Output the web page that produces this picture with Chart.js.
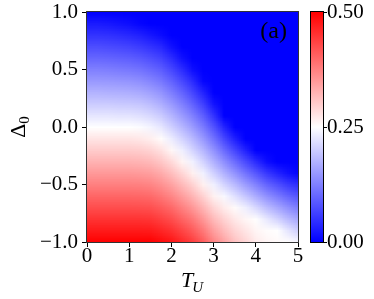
<!DOCTYPE html>
<html>
<head>
<meta charset="utf-8">
<style>
  html, body { margin: 0; padding: 0; background: #fff; }
  #wrap { width: 374px; height: 299px; }
</style>
</head>
<body>
<div id="wrap"><canvas id="heat" width="374" height="299"></canvas></div>
<script src="https://cdn.jsdelivr.net/npm/chart.js@4.4.1/dist/chart.umd.min.js"></script>
<script>
// T_U grid (columns) and Delta_0 grid (rows)
const tuValues = [0, 0.25, 0.5, 0.75, 1, 1.25, 1.5, 1.75, 2, 2.25, 2.5, 2.75, 3, 3.25, 3.5, 3.75, 4, 4.25, 4.5, 4.75, 5];
const deltaValues = [-1, -0.9, -0.8, -0.7, -0.6, -0.5, -0.4, -0.3, -0.2, -0.1, 0, 0.1, 0.2, 0.3, 0.4, 0.5, 0.6, 0.7, 0.8, 0.9, 1];

// one row per Delta_0 (bottom to top), one entry per T_U
const gridValues = [
  [0.5, 0.5, 0.5, 0.5, 0.5, 0.5, 0.5, 0.49, 0.48, 0.46, 0.44, 0.41, 0.37, 0.34, 0.31, 0.29, 0.27, 0.26, 0.255, 0.252, 0.242],
  [0.475, 0.475, 0.475, 0.475, 0.475, 0.475, 0.474, 0.464, 0.452, 0.432, 0.411, 0.381, 0.343, 0.316, 0.291, 0.275, 0.26, 0.253, 0.25, 0.225, 0.202],
  [0.45, 0.45, 0.45, 0.45, 0.45, 0.45, 0.448, 0.437, 0.425, 0.403, 0.382, 0.352, 0.317, 0.293, 0.273, 0.259, 0.251, 0.228, 0.207, 0.183, 0.163],
  [0.425, 0.425, 0.425, 0.425, 0.425, 0.424, 0.422, 0.411, 0.397, 0.375, 0.352, 0.323, 0.29, 0.269, 0.254, 0.234, 0.212, 0.185, 0.164, 0.142, 0.123],
  [0.4, 0.4, 0.4, 0.4, 0.4, 0.399, 0.396, 0.384, 0.369, 0.346, 0.323, 0.294, 0.263, 0.243, 0.22, 0.194, 0.169, 0.142, 0.121, 0.1, 0.083],
  [0.375, 0.375, 0.375, 0.375, 0.375, 0.374, 0.37, 0.358, 0.341, 0.318, 0.294, 0.265, 0.235, 0.208, 0.182, 0.153, 0.127, 0.099, 0.078, 0.058, 0.044],
  [0.35, 0.35, 0.35, 0.35, 0.35, 0.348, 0.344, 0.332, 0.314, 0.29, 0.265, 0.236, 0.204, 0.174, 0.144, 0.113, 0.085, 0.056, 0.034, 0.017, 0.004],
  [0.325, 0.325, 0.325, 0.325, 0.325, 0.323, 0.318, 0.305, 0.286, 0.261, 0.236, 0.207, 0.173, 0.139, 0.106, 0.073, 0.042, 0.013, 0, 0, 0],
  [0.3, 0.3, 0.3, 0.3, 0.3, 0.298, 0.292, 0.279, 0.258, 0.234, 0.208, 0.178, 0.142, 0.104, 0.068, 0.032, 0, 0, 0, 0, 0],
  [0.275, 0.275, 0.275, 0.275, 0.275, 0.273, 0.266, 0.253, 0.231, 0.207, 0.181, 0.149, 0.111, 0.069, 0.03, 0, 0, 0, 0, 0, 0],
  [0.25, 0.25, 0.25, 0.25, 0.25, 0.247, 0.239, 0.226, 0.204, 0.179, 0.153, 0.121, 0.08, 0.035, 0, 0, 0, 0, 0, 0, 0],
  [0.225, 0.225, 0.225, 0.224, 0.224, 0.22, 0.212, 0.199, 0.177, 0.152, 0.125, 0.092, 0.049, 0, 0, 0, 0, 0, 0, 0, 0],
  [0.2, 0.2, 0.2, 0.198, 0.197, 0.194, 0.185, 0.172, 0.151, 0.125, 0.097, 0.063, 0.019, 0, 0, 0, 0, 0, 0, 0, 0],
  [0.175, 0.175, 0.174, 0.173, 0.171, 0.167, 0.158, 0.145, 0.124, 0.098, 0.069, 0.034, 0, 0, 0, 0, 0, 0, 0, 0, 0],
  [0.15, 0.15, 0.149, 0.147, 0.145, 0.14, 0.13, 0.118, 0.097, 0.071, 0.042, 0.006, 0, 0, 0, 0, 0, 0, 0, 0, 0],
  [0.125, 0.125, 0.124, 0.121, 0.118, 0.113, 0.103, 0.091, 0.07, 0.043, 0.014, 0, 0, 0, 0, 0, 0, 0, 0, 0, 0],
  [0.1, 0.1, 0.098, 0.095, 0.092, 0.086, 0.076, 0.065, 0.043, 0.016, 0, 0, 0, 0, 0, 0, 0, 0, 0, 0, 0],
  [0.075, 0.075, 0.073, 0.07, 0.066, 0.059, 0.049, 0.038, 0.016, 0, 0, 0, 0, 0, 0, 0, 0, 0, 0, 0, 0],
  [0.05, 0.05, 0.048, 0.044, 0.039, 0.032, 0.022, 0.011, 0, 0, 0, 0, 0, 0, 0, 0, 0, 0, 0, 0, 0],
  [0.025, 0.025, 0.023, 0.018, 0.013, 0.005, 0, 0, 0, 0, 0, 0, 0, 0, 0, 0, 0, 0, 0, 0, 0],
  [0, 0, 0, 0, 0, 0, 0, 0, 0, 0, 0, 0, 0, 0, 0, 0, 0, 0, 0, 0, 0]
];

const xTickValues = [0, 1, 2, 3, 4, 5];
const xTickLabels = ["0", "1", "2", "3", "4", "5"];
const yTickValues = [-1, -0.5, 0, 0.5, 1];
const yTickLabels = ["\u22121.0", "\u22120.5", "0.0", "0.5", "1.0"];
const cbTickValues = [0, 0.25, 0.5];
const cbTickLabels = ["0.00", "0.25", "0.50"];
const vMin = 0, vMax = 0.5;
const panelLabel = "(a)";

const serif = "'Liberation Serif', 'DejaVu Serif', serif";
const tickFont = { family: serif, size: 21, lineHeight: 0.75 };

// matplotlib "bwr": blue -> white -> red
function bwr(v) {
  let t = (v - vMin) / (vMax - vMin);
  t = Math.max(0, Math.min(1, t));
  if (t < 0.5) {
    const c = Math.round(510 * t);
    return [c, c, 255];
  }
  const c = Math.round(510 * (1 - t));
  return [255, c, c];
}

function setTicks(values) {
  return (scale) => { scale.ticks = values.map(v => ({ value: v })); };
}

const heatmap = {
  id: "heatmap",
  beforeDatasetsDraw(chart) {
    const { ctx, chartArea: a, scales: { x, y } } = chart;
    const nx = tuValues.length, ny = deltaValues.length;
    const off = document.createElement("canvas");
    off.width = nx;
    off.height = ny;
    const octx = off.getContext("2d");
    const img = octx.createImageData(nx, ny);
    for (let i = 0; i < ny; i++) {
      for (let j = 0; j < nx; j++) {
        const [r, g, b] = bwr(gridValues[i][j]);
        const k = ((ny - 1 - i) * nx + j) * 4;
        img.data[k] = r;
        img.data[k + 1] = g;
        img.data[k + 2] = b;
        img.data[k + 3] = 255;
      }
    }
    octx.putImageData(img, 0, 0);

    const dt = tuValues[1] - tuValues[0];
    const dd = deltaValues[1] - deltaValues[0];
    const x0 = x.getPixelForValue(tuValues[0] - dt / 2);
    const x1 = x.getPixelForValue(tuValues[nx - 1] + dt / 2);
    const y0 = y.getPixelForValue(deltaValues[ny - 1] + dd / 2);
    const y1 = y.getPixelForValue(deltaValues[0] - dd / 2);

    ctx.save();
    ctx.beginPath();
    ctx.rect(a.left, a.top, a.width, a.height);
    ctx.clip();
    ctx.imageSmoothingEnabled = true;
    ctx.imageSmoothingQuality = "low";
    ctx.drawImage(off, x0, y0, x1 - x0, y1 - y0);
    ctx.restore();
  },
  afterDraw(chart) {
    const { ctx, chartArea: a, scales: { cb } } = chart;
    ctx.save();

    // frame
    ctx.strokeStyle = "#333";
    ctx.lineWidth = 1;
    ctx.strokeRect(Math.round(a.left) - 0.5, Math.round(a.top) - 0.5, Math.round(a.width) + 1, Math.round(a.height) + 1);

    // colorbar
    const cbL = Math.round(a.right) + 13, cbW = 12;
    const cbTop = cb.getPixelForValue(vMax), cbBot = cb.getPixelForValue(vMin);
    const grad = ctx.createLinearGradient(0, cbTop, 0, cbBot);
    for (let k = 0; k <= 20; k++) {
      const [r, g, b] = bwr(vMax - (vMax - vMin) * k / 20);
      grad.addColorStop(k / 20, `rgb(${r},${g},${b})`);
    }
    ctx.fillStyle = grad;
    ctx.fillRect(cbL, cbTop, cbW, cbBot - cbTop);
    ctx.strokeStyle = "#000";
    ctx.strokeRect(cbL - 0.5, Math.round(cbTop) - 0.5, cbW + 1, Math.round(cbBot - cbTop) + 1);
    ctx.beginPath();
    cbTickValues.forEach(v => {
      const py = Math.round(cb.getPixelForValue(v)) + 0.5;
      ctx.moveTo(cbL + cbW, py);
      ctx.lineTo(cbL + cbW + 4, py);
    });
    ctx.stroke();

    // panel label
    ctx.fillStyle = "#000";
    ctx.font = `24px ${serif}`;
    ctx.textAlign = "right";
    ctx.textBaseline = "alphabetic";
    ctx.fillText(panelLabel, a.right - 11, a.top + 26);

    // x title: T_U
    ctx.textAlign = "left";
    ctx.font = `italic 22px ${serif}`;
    const wT = ctx.measureText("T").width;
    ctx.font = `italic 15px ${serif}`;
    const wU = ctx.measureText("U").width;
    const cx = (a.left + a.right) / 2;
    const sx = cx - (wT + wU) / 2;
    ctx.font = `italic 22px ${serif}`;
    ctx.fillText("T", sx, 287);
    ctx.font = `italic 15px ${serif}`;
    ctx.fillText("U", sx + wT - 1, 292);

    // y title: Delta_0 (rotated)
    ctx.translate(25, (a.top + a.bottom) / 2);
    ctx.rotate(-Math.PI / 2);
    ctx.font = `22px ${serif}`;
    const wD = ctx.measureText("\u0394").width;
    ctx.font = `15px ${serif}`;
    const w0 = ctx.measureText("0").width;
    const sy = -(wD + w0) / 2;
    ctx.font = `22px ${serif}`;
    ctx.fillText("\u0394", sy, 0);
    ctx.font = `15px ${serif}`;
    ctx.fillText("0", sy + wD, 4);

    ctx.restore();
  }
};

new Chart(document.getElementById("heat").getContext("2d"), {
  type: "scatter",
  data: { datasets: [{ data: [] }] },
  options: {
    responsive: false,
    devicePixelRatio: 1,
    animation: false,
    layout: { padding: { top: 12, left: 0, right: 0, bottom: 0 } },
    plugins: { legend: { display: false }, tooltip: { enabled: false } },
    scales: {
      x: {
        type: "linear",
        min: 0,
        max: 5,
        afterBuildTicks: setTicks(xTickValues),
        afterFit: (s) => { s.height = 57; },
        grid: { display: true, drawOnChartArea: false, drawTicks: true, tickLength: 5, color: "#000" },
        border: { display: false },
        ticks: {
          color: "#000",
          font: tickFont,
          padding: 2,
          maxRotation: 0,
          callback: (v, i) => xTickLabels[i]
        }
      },
      y: {
        type: "linear",
        min: -1,
        max: 1,
        afterBuildTicks: setTicks(yTickValues),
        afterFit: (s) => { s.width = 87; },
        grid: { display: true, drawOnChartArea: false, drawTicks: true, tickLength: 5, color: "#000" },
        border: { display: false },
        ticks: {
          color: "#000",
          font: tickFont,
          padding: 4,
          callback: (v, i) => yTickLabels[i]
        }
      },
      cb: {
        type: "linear",
        position: "right",
        min: vMin,
        max: vMax,
        afterBuildTicks: setTicks(cbTickValues),
        afterFit: (s) => { s.width = 76; },
        grid: { display: false, drawTicks: true, tickLength: 29 },
        border: { display: false },
        ticks: {
          color: "#000",
          font: tickFont,
          padding: 0,
          callback: (v, i) => cbTickLabels[i]
        }
      }
    }
  },
  plugins: [heatmap]
});
</script>
</body>
</html>
